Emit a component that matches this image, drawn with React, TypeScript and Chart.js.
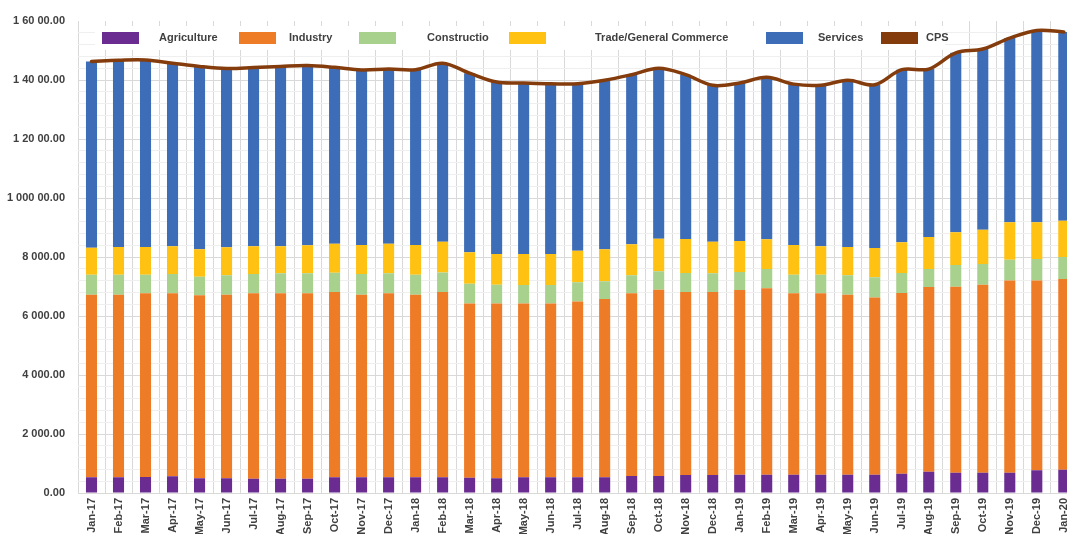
import React, { useEffect, useRef } from "react";
import { Chart, registerables } from "chart.js";

Chart.register(...registerables);

const months: string[] = [
  "Jan-17", "Feb-17", "Mar-17", "Apr-17", "May-17", "Jun-17", "Jul-17", "Aug-17", "Sep-17", "Oct-17", "Nov-17", "Dec-17",
  "Jan-18", "Feb-18", "Mar-18", "Apr-18", "May-18", "Jun-18", "Jul-18", "Aug-18", "Sep-18", "Oct-18", "Nov-18", "Dec-18",
  "Jan-19", "Feb-19", "Mar-19", "Apr-19", "May-19", "Jun-19", "Jul-19", "Aug-19", "Sep-19", "Oct-19", "Nov-19", "Dec-19",
  "Jan-20",
];

const agriculture: number[] = [
  531, 531, 542, 565, 497, 497, 486, 486, 486, 531, 531, 531,
  531, 531, 519, 497, 531, 531, 531, 531, 576, 576, 610, 610,
  621, 621, 621, 621, 621, 621, 655, 723, 689, 689, 689, 768,
  791,
];

const industry: number[] = [
  6193, 6193, 6227, 6204, 6204, 6227, 6283, 6283, 6283, 6283, 6193, 6238,
  6193, 6283, 5908, 5930, 5896, 5896, 5964, 6046, 6193, 6317, 6204, 6204,
  6261, 6317, 6148, 6148, 6103, 6010, 6125, 6260, 6305, 6372, 6518, 6439,
  6464,
];

const construction: number[] = [
  678, 678, 633, 655, 633, 655, 655, 678, 678, 655, 700, 678,
  678, 664, 668, 634, 623, 623, 645, 599, 610, 622, 644, 633,
  610, 656, 633, 633, 655, 679, 678, 611, 735, 702, 702, 725,
  745,
];

const trade: number[] = [
  915, 937, 937, 938, 926, 949, 938, 915, 949, 983, 983, 1005,
  1005, 1042, 1062, 1041, 1052, 1052, 1074, 1084, 1051, 1107, 1153, 1073,
  1051, 1005, 1005, 960, 960, 995, 1038, 1084, 1107, 1163, 1265, 1242,
  1231,
];

const services: number[] = [
  6313, 6331, 6341, 6208, 6200, 6062, 6058, 6098, 6094, 5978, 5933, 5918,
  5943, 6050, 6073, 5828, 5798, 5773, 5656, 5730, 5750, 5778, 5569, 5300,
  5357, 5491, 5453, 5458, 5651, 5535, 5854, 5692, 6084, 6124, 6246, 6506,
  6399,
];

const cps: number[] = [
  14630, 14670, 14680, 14570, 14460, 14390, 14420, 14460, 14490, 14430, 14340, 14370,
  14350, 14570, 14230, 13930, 13900, 13875, 13870, 13990, 14180, 14400, 14180, 13820,
  13900, 14090, 13860, 13820, 13990, 13840, 14350, 14370, 14920, 15050, 15420, 15680,
  15630,
];

const yTickLabels: string[] = [
  "0.00", "2 000.00", "4 000.00", "6 000.00", "8 000.00", "1 000 00.00", "1 20 00.00", "1 40 00.00", "1 60 00.00",
];

const seriesNames: string[] = ["Agriculture", "Industry", "Constructio", "Trade/General Commerce", "Services", "CPS"];
const seriesColors: string[] = ["#6A2C91", "#EE7B26", "#A9D18E", "#FFC112", "#3E6DB8", "#843C0C"];

const legendBoxX = [102, 239, 359, 509, 766, 881];
const legendTextX = [159, 289, 427, 595, 818, 926];

const FONT = "'Liberation Sans', Arial, Helvetica, sans-serif";
const TEXT = "#404040";

const legendPlugin = {
  id: "customLegend",
  afterDraw(chart: any) {
    const ctx = chart.ctx;
    ctx.save();
    ctx.fillStyle = "#ffffff";
    ctx.fillRect(95, 26, 850, 24);
    ctx.font = `bold 11px ${FONT}`;
    ctx.textBaseline = "middle";
    ctx.textAlign = "left";
    seriesNames.forEach((name, i) => {
      ctx.fillStyle = seriesColors[i];
      ctx.fillRect(legendBoxX[i], 32, 37, 12);
      ctx.fillStyle = TEXT;
      ctx.fillText(name, legendTextX[i], 38);
    });
    ctx.restore();
  },
};

export default function App() {
  const ref = useRef<HTMLCanvasElement | null>(null);

  useEffect(() => {
    if (!ref.current) return;
    const barCommon = { barPercentage: 0.41, categoryPercentage: 1, order: 1, stack: "sectors", borderWidth: 0 };
    const chart = new Chart(ref.current, {
      type: "bar",
      data: {
        labels: months,
        datasets: [
          { type: "line", label: seriesNames[5], data: cps, borderColor: seriesColors[5], backgroundColor: seriesColors[5], borderWidth: 3.5, pointRadius: 0, tension: 0.35, order: 0, stack: "cps", borderCapStyle: "round" } as any,
          { label: seriesNames[0], data: agriculture, backgroundColor: seriesColors[0], ...barCommon },
          { label: seriesNames[1], data: industry, backgroundColor: seriesColors[1], ...barCommon },
          { label: seriesNames[2], data: construction, backgroundColor: seriesColors[2], ...barCommon },
          { label: seriesNames[3], data: trade, backgroundColor: seriesColors[3], ...barCommon },
          { label: seriesNames[4], data: services, backgroundColor: seriesColors[4], ...barCommon },
        ],
      },
      options: {
        responsive: false,
        animation: false,
        layout: { padding: { top: 21, left: 0, right: 0, bottom: 0 } },
        plugins: { legend: { display: false }, tooltip: { enabled: false } },
        scales: {
          x: {
            stacked: true,
            offset: true,
            grid: { color: "#d9d9d9", drawTicks: false, offset: true },
            border: { display: false },
            ticks: {
              autoSkip: false,
              minRotation: 90,
              maxRotation: 90,
              padding: 5,
              color: TEXT,
              font: { family: FONT, size: 11, weight: "bold" },
            },
            afterFit: (scale: any) => { scale.height = 52; },
          },
          y: {
            stacked: true,
            min: 0,
            max: 16000,
            grid: {
              drawTicks: false,
              color: (c: any) => {
                const v = c.tick ? c.tick.value : 0;
                if (v >= 16000) return "rgba(0,0,0,0)";
                return v % 2000 === 0 ? "#d9d9d9" : "#efefef";
              },
            },
            border: { display: false },
            ticks: {
              stepSize: 400,
              autoSkip: false,
              padding: 13,
              color: TEXT,
              font: { family: FONT, size: 11, weight: "bold" },
              callback: (value: any) => {
                const v = Number(value);
                if (v % 2000 !== 0) return "";
                return yTickLabels[v / 2000];
              },
            },
            afterFit: (scale: any) => { scale.width = 78; },
          },
        },
      },
      plugins: [legendPlugin],
    });
    return () => chart.destroy();
  }, []);

  return (
    <div style={{ position: "fixed", left: 0, top: 0, width: 1067, height: 534, overflow: "hidden", background: "#ffffff" }}>
      <canvas ref={ref} width={1082} height={545} style={{ display: "block", width: 1082, height: 545 }} />
    </div>
  );
}
